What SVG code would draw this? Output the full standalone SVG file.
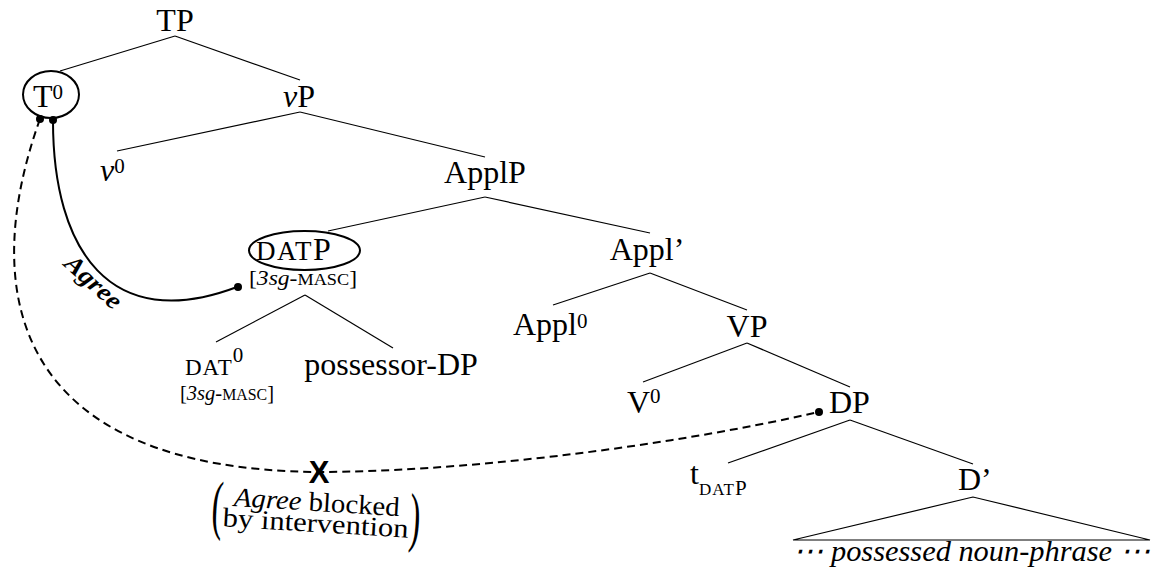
<svg xmlns="http://www.w3.org/2000/svg" width="1151" height="577" viewBox="0 0 1151 577">
<style>
text{font-family:"Liberation Serif","DejaVu Serif",serif;fill:#000}
.n{font-size:32px}
.sup{font-size:21px}
.feat{font-size:22px}
.sc{font-size:17px}
.it{font-style:italic}
.edge{stroke:#000;stroke-width:1.2;fill:none}
.ring{stroke:#000;stroke-width:2;fill:none}
.agree{stroke:#000;stroke-width:2;fill:none}
.blocked{stroke:#000;stroke-width:2;fill:none;stroke-dasharray:8 5}
.dot{fill:#000}
</style>
<g id="connectors">
<line class="edge" x1="175" y1="36" x2="60" y2="71"/>
<line class="edge" x1="175" y1="36" x2="300" y2="80"/>
<line class="edge" x1="300" y1="112" x2="117" y2="151"/>
<line class="edge" x1="300" y1="112" x2="485" y2="157"/>
<line class="edge" x1="485" y1="197" x2="328" y2="231"/>
<line class="edge" x1="485" y1="197" x2="650" y2="233"/>
<line class="edge" x1="305" y1="295" x2="216" y2="342"/>
<line class="edge" x1="305" y1="295" x2="393" y2="348"/>
<line class="edge" x1="650" y1="273" x2="553" y2="305"/>
<line class="edge" x1="650" y1="273" x2="747" y2="310"/>
<line class="edge" x1="747" y1="343" x2="643" y2="382"/>
<line class="edge" x1="747" y1="343" x2="850" y2="387"/>
<line class="edge" x1="850" y1="420" x2="728" y2="463"/>
<line class="edge" x1="850" y1="420" x2="973" y2="464"/>
<polygon class="edge" points="973,497 793,540 1150,540"/>
<path class="agree" d="M53,121 C53,250 110,335 237,287"/>
<path class="blocked" d="M40,119 C-25,300 20,470 319,472 C450,472 650,450 819,412"/>
<circle class="dot" cx="40" cy="119" r="4"/>
<circle class="dot" cx="53" cy="120" r="4"/>
<circle class="dot" cx="238" cy="287" r="4"/>
<circle class="dot" cx="819" cy="412" r="4"/>
<text x="88" y="288" text-anchor="middle" transform="rotate(42 88 288)" font-size="25" font-weight="bold" font-style="italic" textLength="68" lengthAdjust="spacingAndGlyphs">Agree</text>
<text x="319" y="483" text-anchor="middle" font-weight="bold" font-size="31" style="font-family:'Liberation Sans',sans-serif">X</text>
<g transform="rotate(3.5 316 517)">
<text x="217" y="533" text-anchor="middle" font-size="66" transform="translate(217 0) scale(0.5 1) translate(-217 0)">(</text>
<text x="415" y="533" text-anchor="middle" font-size="66" transform="translate(415 0) scale(0.5 1) translate(-415 0)">)</text>
<text x="316" y="511" text-anchor="middle" font-size="27" textLength="166" lengthAdjust="spacingAndGlyphs"><tspan class="it">Agree</tspan> blocked</text>
<text x="316" y="532" text-anchor="middle" font-size="27" textLength="186" lengthAdjust="spacingAndGlyphs">by intervention</text>
</g>
</g>
<g id="TP"><text class="n" x="175" y="31" text-anchor="middle">TP</text></g>
<g id="T0">
<ellipse class="ring" cx="51" cy="94.5" rx="28" ry="23.5"/>
<text class="n" x="33" y="107">T<tspan class="sup" dy="-8">0</tspan></text>
</g>
<g id="vP"><text class="n" x="283" y="107"><tspan class="it">v</tspan>P</text></g>
<g id="v0"><text class="n" x="100" y="181"><tspan class="it">v</tspan><tspan class="sup" dy="-8">0</tspan></text></g>
<g id="ApplP"><text class="n" x="485" y="183" text-anchor="middle">ApplP</text></g>
<g id="DATP">
<ellipse class="ring" cx="304.5" cy="250.5" rx="55.5" ry="19.5"/>
<text class="n" x="256" y="260"><tspan font-size="27" letter-spacing="1.5">DAT</tspan>P</text>
<text class="feat" x="303" y="285" text-anchor="middle" textLength="108" lengthAdjust="spacingAndGlyphs">[<tspan class="it">3sg</tspan>-<tspan class="sc">MASC</tspan>]</text>
</g>
<g id="Appl1"><text class="n" x="647" y="260" text-anchor="middle">Appl’</text></g>
<g id="DAT0">
<text class="n" x="185" y="375"><tspan font-size="23" letter-spacing="1">DAT</tspan><tspan class="sup" dy="-13">0</tspan></text>
<text class="feat" x="227" y="400" text-anchor="middle" textLength="94" lengthAdjust="spacingAndGlyphs">[<tspan class="it">3sg</tspan>-<tspan class="sc">MASC</tspan>]</text>
</g>
<g id="possessorDP"><text class="n" x="391" y="375" text-anchor="middle">possessor-DP</text></g>
<g id="Appl0"><text class="n" x="513" y="335">Appl<tspan class="sup" dy="-7">0</tspan></text></g>
<g id="VP"><text class="n" x="747" y="337" text-anchor="middle">VP</text></g>
<g id="V0"><text class="n" x="627" y="413">V<tspan class="sup" dy="-10">0</tspan></text></g>
<g id="DP"><text class="n" x="829" y="413">DP</text></g>
<g id="tDATP"><text class="n" x="690" y="484">t<tspan font-size="17" letter-spacing="1" dy="11">DAT</tspan><tspan font-size="21">P</tspan></text></g>
<g id="Dbar"><text class="n" x="958" y="490">D’</text></g>
<g id="NP"><text class="n it" x="971.5" y="561" text-anchor="middle" style="font-size:30px" textLength="357" lengthAdjust="spacingAndGlyphs">⋯ possessed noun-phrase ⋯</text></g>
</svg>
